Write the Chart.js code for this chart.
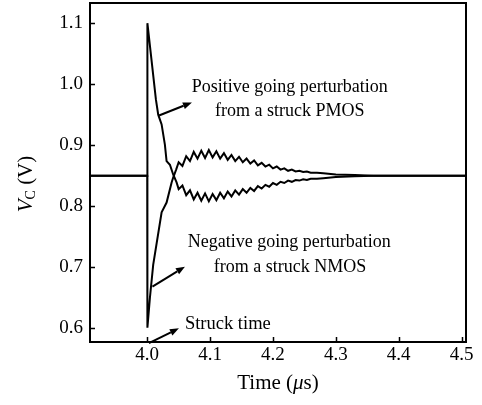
<!DOCTYPE html>
<html>
<head>
<meta charset="utf-8">
<script src="https://cdn.jsdelivr.net/npm/chart.js@4.4.1/dist/chart.umd.min.js"></script>
<style>
  html, body { margin: 0; padding: 0; background: #fff; }
  #wrap { width: 482px; height: 405px; }
</style>
</head>
<body>
<div id="wrap"><canvas id="chart" width="482" height="405"></canvas></div>
<script>
// strike on a PMOS: positive-going spike, then rings below the rail
const posTime = [3.909, 4.000, 4.0003, 4.0138, 4.0175, 4.0229, 4.0281, 4.0308, 4.0361, 4.0413, 4.0467,
    4.050, 4.056, 4.062, 4.068, 4.074, 4.080, 4.086, 4.092, 4.098, 4.104, 4.110, 4.116,
    4.122, 4.128, 4.134, 4.140, 4.146, 4.152, 4.158, 4.164, 4.170, 4.176, 4.182, 4.188,
    4.194, 4.200, 4.206, 4.212, 4.218, 4.224, 4.230, 4.236, 4.242, 4.248, 4.254, 4.260,
    4.270, 4.280, 4.300, 4.330, 4.360, 4.507];
const posVolt = [0.850, 0.850, 1.100, 0.975, 0.950, 0.934, 0.901, 0.874, 0.868, 0.852, 0.839,
    0.828, 0.834, 0.818, 0.826, 0.811, 0.822, 0.809, 0.821, 0.808, 0.820, 0.810, 0.822,
    0.813, 0.824, 0.816, 0.826, 0.819, 0.828, 0.822, 0.830, 0.825, 0.833, 0.829, 0.835,
    0.832, 0.838, 0.835, 0.840, 0.838, 0.842, 0.840, 0.843, 0.842, 0.844, 0.843, 0.845,
    0.845, 0.846, 0.848, 0.849, 0.850, 0.850];

// strike on an NMOS: negative-going spike, then rings above the rail
const negTime = [3.909, 4.000, 4.0003, 4.0043, 4.0095, 4.0229, 4.0308, 4.0388, 4.0413, 4.046,
    4.050, 4.056, 4.062, 4.068, 4.074, 4.080, 4.086, 4.092, 4.098, 4.104, 4.110, 4.116,
    4.122, 4.128, 4.134, 4.140, 4.146, 4.152, 4.158, 4.164, 4.170, 4.176, 4.182, 4.188,
    4.194, 4.200, 4.206, 4.212, 4.218, 4.224, 4.230, 4.236, 4.242, 4.248, 4.254, 4.260,
    4.270, 4.280, 4.300, 4.330, 4.360, 4.507];
const negVolt = [0.850, 0.850, 0.601, 0.650, 0.704, 0.790, 0.806, 0.839, 0.847, 0.860,
    0.872, 0.866, 0.882, 0.874, 0.889, 0.878, 0.891, 0.879, 0.892, 0.880, 0.890, 0.878,
    0.887, 0.876, 0.884, 0.874, 0.881, 0.872, 0.878, 0.870, 0.875, 0.867, 0.871, 0.865,
    0.868, 0.862, 0.865, 0.860, 0.862, 0.858, 0.860, 0.857, 0.858, 0.856, 0.857, 0.855,
    0.855, 0.854, 0.852, 0.851, 0.850, 0.850];

const xTicks = [4.0, 4.1, 4.2, 4.3, 4.4, 4.5];
const yTicks = [0.6, 0.7, 0.8, 0.9, 1.0, 1.1];

// annotations, placed in data units
const notes = [
    { text: 'Positive going perturbation', x: 4.2268, y: 0.9947, align: 'center' },
    { text: 'from a struck PMOS',          x: 4.2268, y: 0.9550, align: 'center' },
    { text: 'Negative going perturbation', x: 4.2260, y: 0.7405, align: 'center' },
    { text: 'from a struck NMOS',          x: 4.2270, y: 0.6995, align: 'center' },
    { text: 'Struck time',                 x: 4.0600, y: 0.6060, align: 'left' }
];
const arrows = [
    [[4.0188, 0.9486], [4.0711, 0.9700]],
    [[4.0083, 0.6684], [4.0600, 0.7010]],
    [[4.0027, 0.5755], [4.0504, 0.6000]]
];

const SERIF = '"Liberation Serif", "Times New Roman", serif';

const toPts = (ts, vs) => ts.map((t, i) => ({ x: t, y: vs[i] }));

const decor = {
    id: 'decor',
    afterDatasetsDraw(chart) {
        const { ctx, chartArea: a, scales: { x, y } } = chart;
        ctx.save();
        ctx.strokeStyle = '#000';
        ctx.fillStyle = '#000';

        // frame
        ctx.lineWidth = 2;
        ctx.strokeRect(a.left, a.top, a.right - a.left, a.bottom - a.top);

        // inward tick marks
        ctx.lineWidth = 1.5;
        ctx.beginPath();
        xTicks.forEach(v => {
            const px = Math.round(x.getPixelForValue(v)) + 0.5;
            ctx.moveTo(px, a.bottom); ctx.lineTo(px, a.bottom - 5);
        });
        yTicks.forEach(v => {
            const py = Math.round(y.getPixelForValue(v)) + 0.5;
            ctx.moveTo(a.left, py); ctx.lineTo(a.left + 5, py);
        });
        ctx.stroke();

        // arrows
        arrows.forEach(([p0, p1]) => {
            const x0 = x.getPixelForValue(p0[0]), y0 = y.getPixelForValue(p0[1]);
            const x1 = x.getPixelForValue(p1[0]), y1 = y.getPixelForValue(p1[1]);
            const ang = Math.atan2(y1 - y0, x1 - x0);
            const len = 9, half = 3.5;
            const bx = x1 - len * Math.cos(ang), by = y1 - len * Math.sin(ang);
            ctx.lineWidth = 2;
            ctx.beginPath();
            ctx.moveTo(x0, y0); ctx.lineTo(bx, by);
            ctx.stroke();
            ctx.beginPath();
            ctx.moveTo(x1, y1);
            ctx.lineTo(bx + half * Math.sin(ang), by - half * Math.cos(ang));
            ctx.lineTo(bx - half * Math.sin(ang), by + half * Math.cos(ang));
            ctx.closePath();
            ctx.fill();
        });

        // annotation text
        ctx.textBaseline = 'middle';
        notes.forEach(n => {
            ctx.font = (n.align === 'left' ? '18.5px ' : '18px ') + SERIF;
            ctx.textAlign = n.align;
            ctx.fillText(n.text, x.getPixelForValue(n.x), y.getPixelForValue(n.y));
        });

        // x axis title: Time (μs), μ in italic
        const xParts = [
            { t: 'Time (', f: '21px ' + SERIF },
            { t: 'μ', f: 'italic 21px ' + SERIF },
            { t: 's)', f: '21px ' + SERIF }
        ];
        drawRun(ctx, xParts, (a.left + a.right) / 2, 383);

        // y axis title: V_C (V), rotated
        ctx.save();
        ctx.translate(26, 184);
        ctx.rotate(-Math.PI / 2);
        const yParts = [
            { t: 'V', f: 'italic 21px ' + SERIF },
            { t: 'C', f: '14px ' + SERIF, dy: 5 },
            { t: ' (V)', f: '21px ' + SERIF }
        ];
        drawRun(ctx, yParts, 0, 0);
        ctx.restore();

        ctx.restore();
    }
};

function drawRun(ctx, parts, cx, cy) {
    let total = 0;
    parts.forEach(p => { ctx.font = p.f; p.w = ctx.measureText(p.t).width; total += p.w; });
    let xx = cx - total / 2;
    ctx.textAlign = 'left';
    ctx.textBaseline = 'middle';
    parts.forEach(p => {
        ctx.font = p.f;
        ctx.fillText(p.t, xx, cy + (p.dy || 0));
        xx += p.w;
    });
}

const lineStyle = {
    borderColor: '#000',
    borderWidth: 2,
    pointRadius: 0,
    tension: 0,
    fill: false
};

new Chart(document.getElementById('chart').getContext('2d'), {
    type: 'line',
    data: {
        datasets: [
            Object.assign({ label: 'PMOS strike', data: toPts(posTime, posVolt) }, lineStyle),
            Object.assign({ label: 'NMOS strike', data: toPts(negTime, negVolt) }, lineStyle)
        ]
    },
    options: {
        responsive: false,
        animation: false,
        devicePixelRatio: 1,
        layout: { padding: { left: 0, top: 3, right: 16, bottom: 0 } },
        plugins: {
            legend: { display: false },
            tooltip: { enabled: false }
        },
        scales: {
            x: {
                type: 'linear',
                min: 3.909,
                max: 4.507,
                afterBuildTicks: s => { s.ticks = xTicks.map(v => ({ value: v })); },
                afterFit: s => { s.height = 63; s.paddingLeft = 0; s.paddingRight = 0; },
                grid: { display: false, drawTicks: false },
                border: { display: false },
                ticks: {
                    color: '#000',
                    font: { family: SERIF, size: 19 },
                    padding: 2,
                    maxRotation: 0,
                    callback: v => v.toFixed(1)
                }
            },
            y: {
                type: 'linear',
                min: 0.5775,
                max: 1.133,
                afterBuildTicks: s => { s.ticks = yTicks.map(v => ({ value: v })); },
                afterFit: s => { s.width = 90; s.paddingTop = 0; s.paddingBottom = 0; },
                grid: { display: false, drawTicks: false },
                border: { display: false },
                ticks: {
                    color: '#000',
                    font: { family: SERIF, size: 19 },
                    padding: 7,
                    callback: v => v.toFixed(1)
                }
            }
        }
    },
    plugins: [decor]
});
</script>
</body>
</html>
